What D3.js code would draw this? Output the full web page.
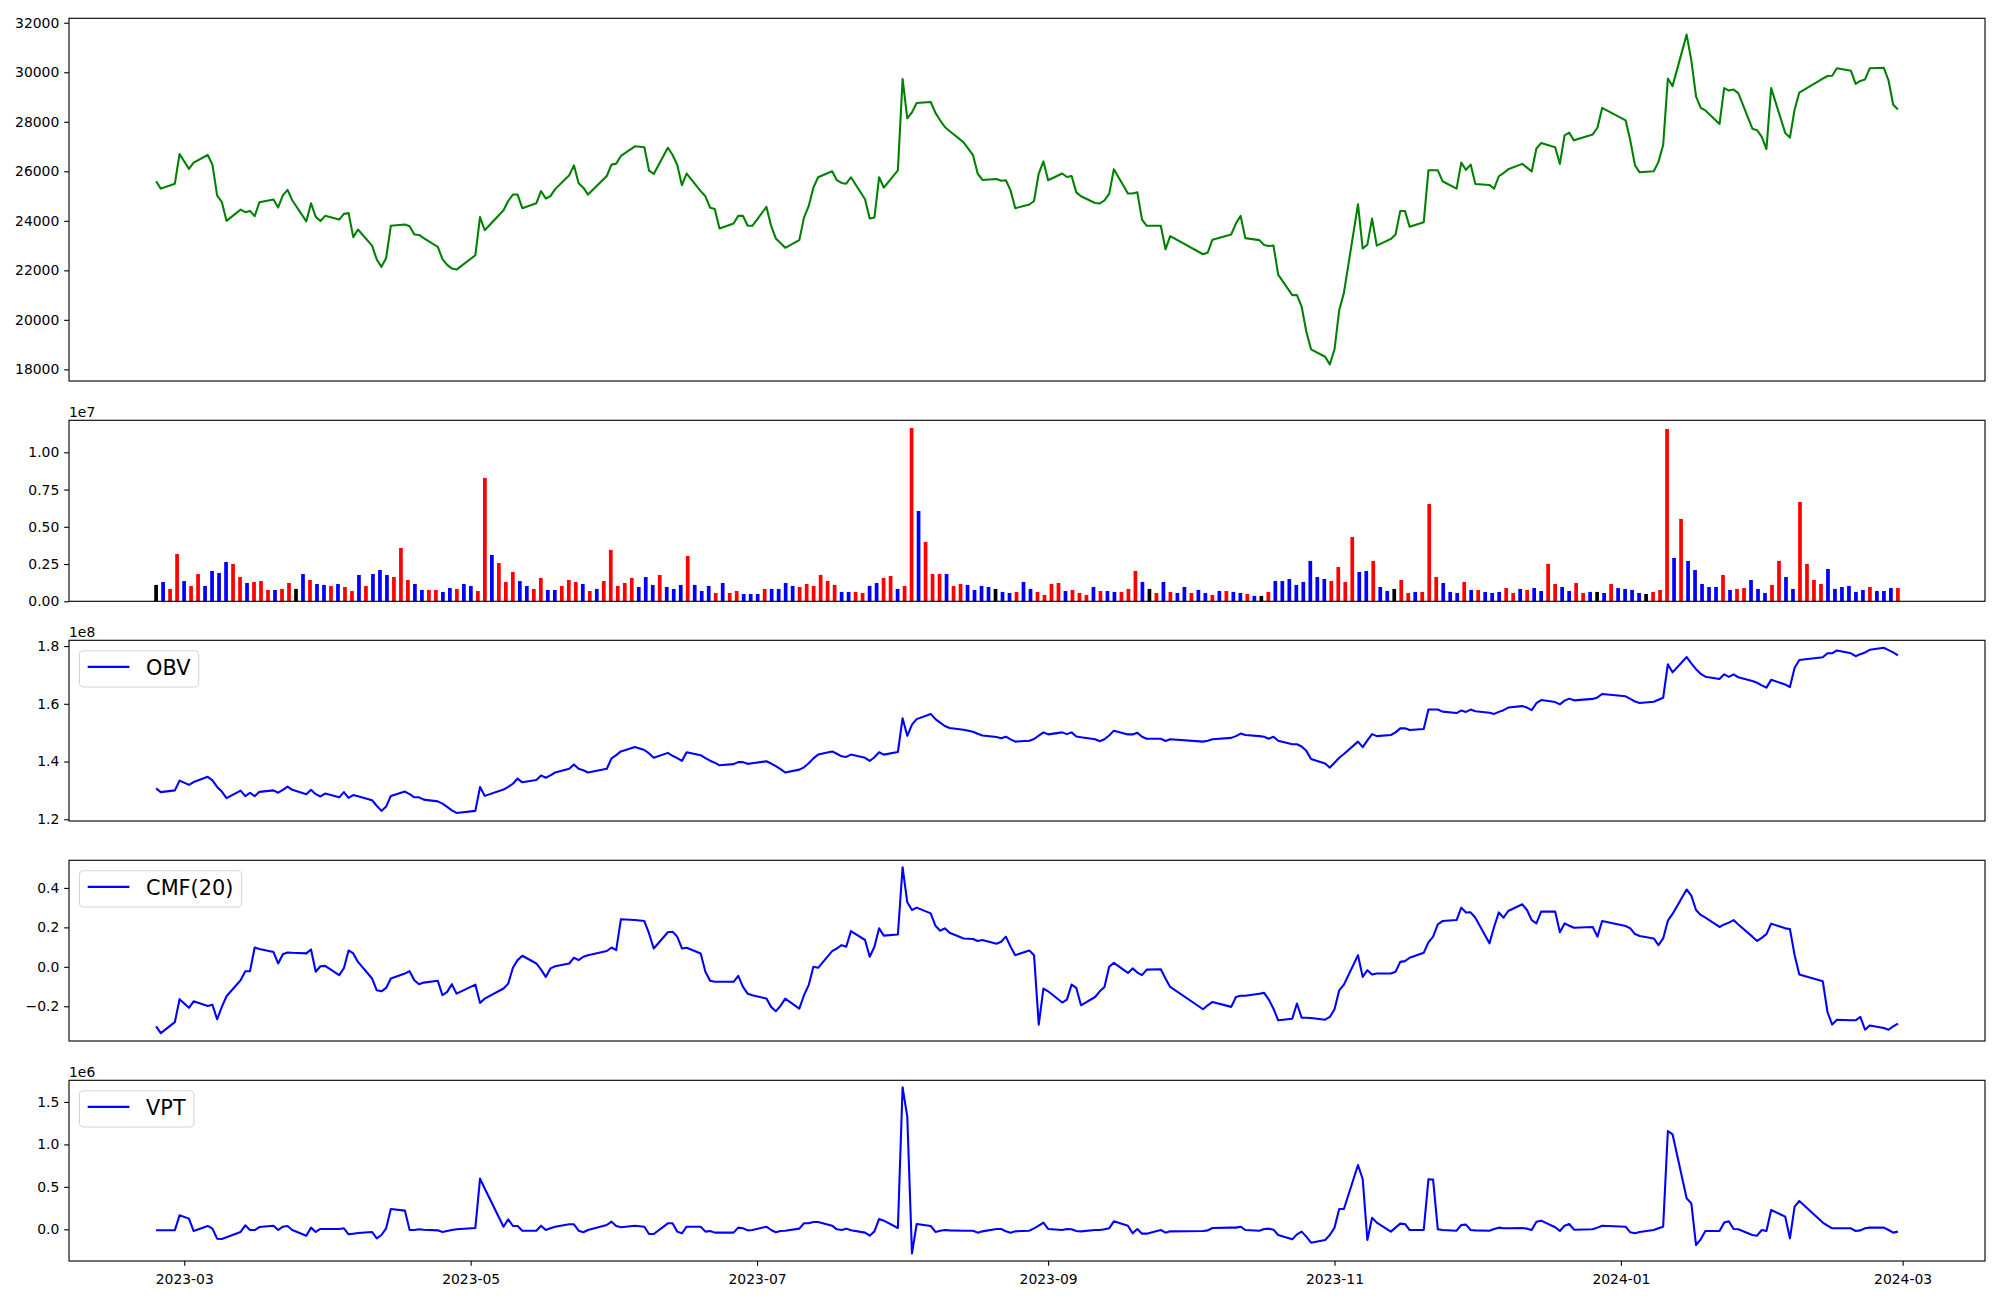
<!DOCTYPE html>
<html><head><meta charset="utf-8">
<script src="https://cdn.jsdelivr.net/npm/d3@7"></script>
<style>body{margin:0;background:#fff} svg{display:block} text{font-family:"DejaVu Sans",sans-serif}</style>
</head><body><svg id="chart" width="2000" height="1300"></svg>
<script>
// ---------------- DATA ----------------
const dates = ["2023-02-23","2023-02-24","2023-02-27","2023-02-28",
"2023-03-02","2023-03-03","2023-03-06","2023-03-07","2023-03-08","2023-03-09","2023-03-10","2023-03-13","2023-03-14","2023-03-15","2023-03-16","2023-03-17","2023-03-20","2023-03-21","2023-03-22","2023-03-23","2023-03-24","2023-03-27","2023-03-28","2023-03-29","2023-03-30","2023-03-31",
"2023-04-03","2023-04-04","2023-04-05","2023-04-06","2023-04-07","2023-04-10","2023-04-11","2023-04-12","2023-04-13","2023-04-14","2023-04-17","2023-04-18","2023-04-19","2023-04-20","2023-04-21","2023-04-24","2023-04-25","2023-04-26","2023-04-27","2023-04-28",
"2023-05-02","2023-05-03","2023-05-04","2023-05-08","2023-05-09","2023-05-10","2023-05-11","2023-05-12","2023-05-15","2023-05-16","2023-05-17","2023-05-18","2023-05-19","2023-05-22","2023-05-23","2023-05-24","2023-05-25","2023-05-26","2023-05-30","2023-05-31",
"2023-06-01","2023-06-02","2023-06-05","2023-06-07","2023-06-08","2023-06-09","2023-06-12","2023-06-13","2023-06-14","2023-06-15","2023-06-16","2023-06-19","2023-06-20","2023-06-21","2023-06-22","2023-06-23","2023-06-26","2023-06-27","2023-06-28","2023-06-29","2023-06-30",
"2023-07-03","2023-07-04","2023-07-05","2023-07-06","2023-07-07","2023-07-10","2023-07-11","2023-07-12","2023-07-13","2023-07-14","2023-07-17","2023-07-18","2023-07-19","2023-07-20","2023-07-21","2023-07-24","2023-07-25","2023-07-26","2023-07-27","2023-07-28","2023-07-31",
"2023-08-01","2023-08-02","2023-08-03","2023-08-04","2023-08-07","2023-08-08","2023-08-09","2023-08-10","2023-08-11","2023-08-14","2023-08-16","2023-08-17","2023-08-18","2023-08-21","2023-08-22","2023-08-23","2023-08-24","2023-08-25","2023-08-28","2023-08-29","2023-08-30","2023-08-31",
"2023-09-01","2023-09-04","2023-09-05","2023-09-06","2023-09-07","2023-09-08","2023-09-11","2023-09-12","2023-09-13","2023-09-14","2023-09-15","2023-09-18","2023-09-19","2023-09-20","2023-09-21","2023-09-22","2023-09-25","2023-09-26","2023-09-27",
"2023-10-04","2023-10-05","2023-10-06","2023-10-10","2023-10-11","2023-10-12","2023-10-13","2023-10-16","2023-10-17","2023-10-18","2023-10-19","2023-10-20","2023-10-23","2023-10-24","2023-10-25","2023-10-26","2023-10-27","2023-10-30","2023-10-31",
"2023-11-01","2023-11-02","2023-11-03","2023-11-06","2023-11-07","2023-11-08","2023-11-09","2023-11-10","2023-11-13","2023-11-14","2023-11-15","2023-11-16","2023-11-17","2023-11-20","2023-11-21","2023-11-22","2023-11-23","2023-11-24","2023-11-27","2023-11-28","2023-11-29","2023-11-30",
"2023-12-01","2023-12-04","2023-12-05","2023-12-06","2023-12-07","2023-12-08","2023-12-11","2023-12-12","2023-12-13","2023-12-14","2023-12-15","2023-12-18","2023-12-19","2023-12-20","2023-12-21","2023-12-22","2023-12-26","2023-12-27","2023-12-28",
"2024-01-02","2024-01-03","2024-01-04","2024-01-05","2024-01-08","2024-01-09","2024-01-10","2024-01-11","2024-01-12","2024-01-15","2024-01-16","2024-01-17","2024-01-18","2024-01-19","2024-01-22","2024-01-23","2024-01-24","2024-01-25","2024-01-26","2024-01-29","2024-01-30","2024-01-31",
"2024-02-01","2024-02-02","2024-02-05","2024-02-06","2024-02-07","2024-02-08","2024-02-13","2024-02-14","2024-02-15","2024-02-16","2024-02-19","2024-02-20","2024-02-21","2024-02-22","2024-02-23","2024-02-26","2024-02-27","2024-02-28","2024-02-29"];

const closePrice = [25600,25300,25500,26700,
26100,26350,26660,26270,25030,24760,24000,24450,24350,24400,24190,24750,24860,24540,25030,25250,24830,23980,24710,24160,23990,24200,
24050,24280,24310,23340,23650,23000,22440,22140,22500,23800,23850,23780,23450,23430,23300,22950,22450,22220,22070,22030,
22610,24150,23620,24430,24800,25060,25060,24510,24710,25200,24900,25000,25280,25840,26240,25520,25340,25060,25810,26270,
26310,26620,27010,26970,26030,25890,26950,26670,26260,25440,25910,25200,24990,24530,24480,23690,23890,24200,24200,23800,23800,
24560,23800,23290,23100,22910,23220,24130,24590,25340,25760,26000,25640,25530,25500,25760,24870,24090,24130,25760,25340,26040,
29730,28140,28380,28760,28800,28360,28060,27790,27630,27170,26650,25910,25650,25690,25620,25640,25230,24510,24660,24800,25910,26400,
25640,25910,25770,25810,25150,24990,24720,24700,24830,25090,26080,25100,25100,25150,24050,23800,23800,22850,23380,
22650,22720,23240,23450,23890,24200,23300,23220,23020,22980,23000,21830,21000,21000,20530,19520,18810,18510,18200,
18810,20390,21090,24670,22880,23040,24090,23000,23270,23450,24400,24400,23760,23940,26040,26040,26040,25600,25300,26350,26060,26270,
25490,25450,25300,25800,25930,26080,26300,26150,25990,26920,27140,26970,26300,27450,27560,27250,27490,27760,28560,
28060,27250,26240,25960,26000,26380,27060,29750,29440,31520,30480,29030,28560,28460,27910,29360,29260,29300,29160,27720,27660,27390,
26900,29360,27550,27360,28500,29180,29740,29850,29860,30160,30060,29530,29650,29710,30160,30180,29670,28690,28500];

// volume in millions of shares
const volumeM = [1.10,1.30,0.83,3.18,1.36,1.03,1.83,1.03,2.04,1.90,
2.64,2.51,1.63,1.23,1.30,1.36,0.76,0.76,0.83,1.23,
0.83,1.83,1.43,1.16,1.10,1.03,1.16,0.96,0.69,1.77,
1.03,1.83,2.10,1.77,1.63,3.58,1.43,1.16,0.76,0.76,
0.76,0.63,0.89,0.83,1.16,1.03,0.69,8.28,3.11,2.57,
1.30,1.97,1.36,1.03,0.83,1.57,0.76,0.76,1.03,1.43,
1.30,1.16,0.69,0.83,1.36,3.45,1.03,1.23,1.57,0.96,
1.63,1.10,1.77,0.96,0.83,1.10,3.04,1.10,0.69,1.03,
0.56,1.23,0.56,0.69,0.49,0.49,0.49,0.83,0.83,0.83,
1.23,1.03,0.96,1.16,1.03,1.77,1.36,1.10,0.63,0.63,
0.63,0.56,1.03,1.23,1.57,1.70,0.83,1.03,11.63,6.06,
3.98,1.83,1.83,1.83,1.03,1.16,1.10,0.76,1.03,0.96,
0.83,0.63,0.56,0.63,1.30,0.83,0.63,0.43,1.16,1.23,
0.69,0.76,0.56,0.43,0.96,0.69,0.69,0.63,0.63,0.83,
2.04,1.30,0.83,0.56,1.30,0.63,0.56,0.96,0.56,0.76,
0.56,0.43,0.69,0.69,0.63,0.56,0.49,0.36,0.36,0.63,
1.36,1.36,1.50,1.10,1.30,2.71,1.63,1.50,1.36,2.30,
1.30,4.32,1.97,2.04,2.71,0.96,0.69,0.83,1.43,0.56,
0.63,0.63,6.53,1.63,1.23,0.63,0.56,1.30,0.76,0.76,
0.63,0.56,0.63,0.89,0.56,0.83,0.76,0.89,0.69,2.51,
1.16,0.96,0.69,1.23,0.56,0.63,0.63,0.56,1.16,0.89,
0.83,0.76,0.56,0.49,0.63,0.76,11.57,2.91,5.53,2.71,
2.10,1.16,0.96,0.96,1.77,0.76,0.83,0.89,1.43,0.83,
0.56,1.10,2.71,1.63,0.83,6.67,2.51,1.43,1.16,2.17,
0.83,0.96,1.03,0.63,0.76,0.96,0.69,0.69,0.89,0.89];

// 1 = up (red), -1 = down (blue), 0 = unchanged (black)
const volumeDir = [0,-1,1,1,-1,1,1,-1,-1,-1,
-1,1,1,-1,1,1,1,-1,1,1,
0,-1,1,-1,-1,1,-1,1,1,-1,
1,-1,-1,-1,1,1,1,-1,-1,1,
1,-1,-1,1,-1,-1,1,1,-1,1,
1,1,-1,-1,1,1,-1,-1,1,1,
1,-1,1,-1,1,1,1,1,1,-1,
-1,-1,1,-1,-1,-1,1,-1,-1,-1,
1,-1,1,1,-1,-1,-1,1,-1,-1,
-1,-1,1,1,1,1,1,1,-1,-1,
1,1,-1,-1,1,1,-1,1,1,-1,
1,1,1,-1,1,1,-1,-1,-1,-1,
0,-1,-1,1,-1,-1,1,1,1,1,
-1,1,1,1,-1,1,-1,-1,1,1,
1,-1,0,1,-1,1,-1,-1,1,-1,
-1,1,-1,1,-1,-1,1,-1,0,1,
-1,-1,-1,-1,-1,-1,-1,-1,1,1,
1,1,-1,-1,1,-1,-1,0,1,1,
-1,1,1,1,-1,-1,-1,1,-1,1,
-1,-1,-1,1,1,-1,1,-1,-1,1,
1,-1,-1,1,1,-1,0,-1,1,-1,
-1,-1,-1,0,1,1,1,-1,1,-1,
-1,-1,-1,-1,1,-1,1,1,-1,-1,
-1,1,1,-1,-1,1,1,1,1,-1,
-1,-1,-1,-1,-1,1,-1,-1,-1,1];

// OBV in units of 1e8
const obvE8 = [1.307,1.294,1.300,1.334,
1.319,1.329,1.347,1.335,1.312,1.296,1.273,1.299,1.280,1.292,1.280,1.295,1.300,1.292,1.302,1.313,1.302,1.287,1.302,1.287,1.279,1.289,
1.276,1.294,1.274,1.284,1.280,1.266,1.247,1.229,1.244,1.281,1.296,1.287,1.276,1.276,1.268,1.262,1.254,1.243,1.231,1.222,
1.229,1.312,1.281,1.303,1.312,1.323,1.341,1.328,1.336,1.352,1.344,1.352,1.362,1.375,1.390,1.375,1.370,1.362,1.375,1.411,
1.422,1.435,1.450,1.440,1.428,1.413,1.430,1.420,1.412,1.402,1.432,1.422,1.412,1.403,1.396,1.387,1.391,1.398,1.398,1.392,1.394,
1.401,1.393,1.384,1.374,1.362,1.372,1.380,1.394,1.411,1.424,1.435,1.427,1.418,1.416,1.424,1.413,1.402,1.415,1.432,1.424,1.433,
1.550,1.489,1.528,1.547,1.565,1.547,1.535,1.523,1.516,1.510,1.503,1.496,1.490,1.485,1.481,1.486,1.477,1.469,1.472,1.478,1.490,1.501,
1.494,1.501,1.495,1.501,1.487,1.484,1.477,1.470,1.477,1.490,1.507,1.494,1.494,1.500,1.486,1.479,1.479,1.471,1.477,
1.469,1.472,1.477,1.482,1.488,1.497,1.492,1.488,1.486,1.479,1.486,1.472,1.460,1.460,1.452,1.437,1.409,1.393,1.379,
1.396,1.413,1.426,1.469,1.450,1.473,1.495,1.488,1.492,1.501,1.515,1.515,1.509,1.513,1.580,1.580,1.580,1.573,1.568,1.577,1.572,1.580,
1.574,1.569,1.565,1.572,1.578,1.587,1.592,1.587,1.578,1.602,1.613,1.606,1.598,1.611,1.618,1.612,1.617,1.622,1.634,
1.626,1.617,1.608,1.603,1.607,1.614,1.621,1.737,1.709,1.762,1.740,1.720,1.704,1.694,1.686,1.702,1.693,1.702,1.692,1.679,1.673,1.664,
1.656,1.683,1.667,1.658,1.725,1.752,1.761,1.775,1.775,1.785,1.775,1.765,1.772,1.778,1.787,1.794,1.786,1.778,1.768];

// Chaikin money flow (20)
const cmf20 = [-0.302,-0.336,-0.280,-0.164,
-0.208,-0.175,-0.198,-0.192,-0.266,-0.203,-0.149,-0.068,-0.022,-0.022,0.098,0.090,0.075,0.017,0.064,0.073,0.071,0.068,0.088,-0.025,0.003,0.005,
-0.042,-0.007,0.083,0.068,0.025,-0.059,-0.119,-0.124,-0.107,-0.059,-0.034,-0.022,-0.068,-0.088,-0.080,-0.071,-0.144,-0.127,-0.088,-0.136,
-0.090,-0.183,-0.161,-0.110,-0.085,-0.005,0.034,0.056,0.017,-0.014,-0.051,-0.008,0.003,0.017,0.046,0.034,0.051,0.059,0.080,0.098,
0.085,0.241,0.237,0.232,0.169,0.093,0.175,0.178,0.153,0.093,0.097,0.068,-0.025,-0.071,-0.076,-0.076,-0.076,-0.046,-0.102,-0.136,-0.144,
-0.161,-0.203,-0.225,-0.198,-0.161,-0.212,-0.144,-0.093,0.000,-0.005,0.080,0.093,0.110,0.102,0.181,0.136,0.051,0.102,0.195,0.158,0.164,
0.505,0.327,0.288,0.300,0.271,0.208,0.183,0.195,0.173,0.144,0.141,0.131,0.136,0.117,0.127,0.153,0.102,0.059,0.083,0.059,-0.293,-0.110,
-0.124,-0.181,-0.166,-0.090,-0.107,-0.195,-0.153,-0.124,-0.102,0.000,0.020,-0.031,-0.008,-0.029,-0.042,-0.014,-0.012,-0.059,-0.102,
-0.215,-0.195,-0.178,-0.203,-0.153,-0.147,-0.147,-0.136,-0.132,-0.166,-0.212,-0.271,-0.263,-0.186,-0.258,-0.258,-0.259,-0.268,-0.254,
-0.215,-0.119,-0.090,0.059,-0.051,-0.017,-0.039,-0.034,-0.034,-0.025,0.025,0.029,0.046,0.071,0.124,0.153,0.215,0.232,0.237,0.300,0.275,0.276,
0.249,0.119,0.203,0.276,0.249,0.283,0.317,0.288,0.237,0.220,0.280,0.280,0.175,0.220,0.208,0.198,0.202,0.153,0.232,
0.207,0.195,0.166,0.156,0.144,0.110,0.144,0.234,0.268,0.392,0.361,0.288,0.263,0.249,0.202,0.215,0.224,0.237,0.215,0.153,0.131,0.147,
0.166,0.219,0.195,0.192,0.059,-0.039,-0.073,-0.229,-0.293,-0.268,-0.271,-0.271,-0.254,-0.319,-0.297,-0.310,-0.319,-0.302,-0.288];

// VPT in units of 1e6
const vptE6 = [-0.010,-0.010,-0.010,0.165,
0.126,-0.020,0.040,0.008,-0.110,-0.114,-0.094,-0.031,0.047,-0.008,-0.008,0.027,0.043,-0.008,0.031,0.039,-0.008,-0.075,0.020,-0.031,0.004,0.004,
0.004,0.012,-0.059,-0.051,-0.043,-0.031,-0.106,-0.067,0.012,0.240,0.220,-0.008,-0.008,0.000,-0.004,-0.012,-0.031,-0.020,-0.008,0.000,
0.016,0.597,0.480,0.031,0.118,0.039,0.039,-0.016,-0.016,0.043,-0.008,0.012,0.031,0.059,0.059,-0.016,-0.035,-0.008,0.051,0.090,
0.039,0.024,0.043,0.031,-0.055,-0.055,0.071,0.071,-0.027,-0.047,0.031,0.031,-0.027,-0.020,-0.039,-0.039,-0.039,0.020,0.012,-0.012,-0.008,
0.031,-0.008,-0.035,-0.020,-0.016,0.008,0.071,0.071,0.086,0.086,0.043,0.000,-0.008,0.008,-0.012,-0.039,-0.075,-0.024,0.122,0.102,0.016,
1.673,1.327,-0.283,0.063,0.039,-0.031,-0.016,-0.008,-0.012,-0.016,-0.016,-0.039,-0.024,0.004,0.004,-0.024,-0.039,-0.024,-0.016,0.012,0.043,0.079,
0.004,-0.008,0.004,0.000,-0.020,-0.024,-0.008,-0.008,0.000,0.012,0.094,0.043,-0.047,0.004,-0.051,-0.051,-0.008,-0.039,-0.024,
-0.020,-0.012,0.016,0.020,0.020,0.031,-0.008,-0.016,0.004,0.008,-0.004,-0.067,-0.118,-0.059,-0.027,-0.086,-0.157,-0.126,-0.067,
0.020,0.240,0.240,0.758,0.593,-0.126,0.137,0.079,-0.027,0.020,0.067,0.063,-0.008,-0.008,0.589,0.585,0.000,-0.008,-0.016,0.051,0.055,-0.008,
-0.012,-0.016,0.004,0.020,0.012,0.012,0.016,0.008,-0.008,0.090,0.102,0.024,-0.020,0.043,0.063,-0.004,0.000,0.020,0.043,
0.031,-0.035,-0.047,-0.031,-0.008,0.012,0.031,1.158,1.119,0.365,0.306,-0.185,-0.118,-0.020,-0.020,0.079,0.094,0.004,0.000,-0.067,-0.075,-0.008,
-0.020,0.228,0.149,-0.106,0.267,0.334,0.080,0.043,0.012,0.012,0.012,-0.020,-0.012,0.012,0.020,0.020,-0.008,-0.039,-0.027];

const priceTicks = [18000,20000,22000,24000,26000,28000,30000,32000];
const volumeTicksM = [0,2.5,5,7.5,10];
const obvTicks = [1.2,1.4,1.6,1.8];
const cmfTicks = [-0.2,0,0.2,0.4];
const vptTicks = [0,0.5,1.0,1.5];
const xTickLabels = ["2023-03","2023-05","2023-07","2023-09","2023-11","2024-01","2024-03"];

// ---------------- LAYOUT ----------------
const L = 69, R = 1985;
const FS = 13.9, TICK = 4.86, PAD = 4.86, LW = 2.08;
const svg = d3.select("#chart");
svg.append("rect").attr("width",2000).attr("height",1300).attr("fill","#fff");

const parse = d3.timeParse("%Y-%m-%d");
const tDates = dates.map(parse);
const t0 = tDates[0], t1 = tDates[tDates.length-1];
const span = t1 - t0;
const x = d3.scaleTime().domain([new Date(+t0 - 0.05*span), new Date(+t1 + 0.05*span)]).range([L, R]);
const n = dates.length;
const xi = d3.scaleLinear().domain([-0.05*(n-1), (n-1)*1.05]).range([L, R]);

function panel(top, bottom, domain){
  const y = d3.scaleLinear().domain(domain).range([bottom, top]);
  return {top, bottom, y, g: svg.append("g")};
}
function yAxis(p, ticks, fmt){
  const ax = d3.axisLeft(p.y).tickValues(ticks).tickFormat(fmt).tickSize(TICK).tickPadding(PAD).tickSizeOuter(0);
  const g = svg.append("g").attr("transform",`translate(${L},0)`).call(ax);
  g.select(".domain").remove();
  g.selectAll(".tick line").attr("stroke","#000").attr("stroke-width",1.11);
  g.selectAll(".tick text").attr("font-size",FS).attr("font-family","DejaVu Sans").attr("fill","#000");
}
function spine(p){
  svg.append("rect").attr("x",L).attr("y",p.top).attr("width",R-L).attr("height",p.bottom-p.top)
    .attr("fill","none").attr("stroke","#000").attr("stroke-width",1.11);
}
function offsetText(p, s){
  svg.append("text").attr("x",L).attr("y",p.top-3.5).attr("font-size",FS).attr("fill","#000").text(s);
}
function legend(p, label){
  const fs = 20.83, top = p.top + 10.4, left = L + 10.4;
  const g = svg.append("g");
  const rect = g.append("rect").attr("x",left).attr("y",top).attr("height",36.3).attr("rx",4.2)
    .attr("fill","rgba(255,255,255,0.8)").attr("stroke","#d6d6d6").attr("stroke-width",1.1);
  g.append("line").attr("x1",left+8.3).attr("x2",left+8.3+41.7).attr("y1",top+16.2).attr("y2",top+16.2)
    .attr("stroke","#0000ff").attr("stroke-width",LW);
  const t = g.append("text").attr("x",left+8.3+41.7+16.7).attr("y",top+24.3).attr("font-size",fs).attr("fill","#000").text(label);
  const w = t.node().getComputedTextLength();
  rect.attr("width", 8.3+41.7+16.7+w+8.3);
}
function drawLine(p, vals, color){
  const line = d3.line().x((d,i)=>x(tDates[i])).y(d=>p.y(d)).curve(d3.curveLinear);
  p.g.append("path").datum(vals).attr("d",line).attr("fill","none").attr("stroke",color)
    .attr("stroke-width",LW).attr("stroke-linejoin","round");
}

// Panel 1: price
const pPrice = panel(18.3, 381, [17530, 32180]);
drawLine(pPrice, closePrice, "#008000");
yAxis(pPrice, priceTicks, d3.format("d"));
spine(pPrice);

// Panel 2: volume
const pVol = panel(420.3, 601.3, [0, 12.15]);
const barW = (xi(1)-xi(0))*0.53;
const colorOf = d => d > 0 ? "#ff0000" : (d < 0 ? "#0000ff" : "#000000");
pVol.g.selectAll("rect").data(volumeM).join("rect")
  .attr("x",(d,i)=>xi(i)-barW/2).attr("width",barW)
  .attr("y",d=>pVol.y(d)).attr("height",d=>pVol.y(0)-pVol.y(d))
  .attr("fill",(d,i)=>colorOf(volumeDir[i]));
yAxis(pVol, volumeTicksM, d=>(d/10).toFixed(2));
spine(pVol);
offsetText(pVol, "1e7");

// Panel 3: OBV
const pObv = panel(640.3, 821, [1.194, 1.820]);
drawLine(pObv, obvE8, "#0000ff");
yAxis(pObv, obvTicks, d=>d.toFixed(1));
spine(pObv);
offsetText(pObv, "1e8");
legend(pObv, "OBV");

// Panel 4: CMF
const pCmf = panel(860.3, 1041, [-0.376, 0.540]);
drawLine(pCmf, cmf20, "#0000ff");
yAxis(pCmf, cmfTicks, d=>d.toFixed(1).replace("-","\u2212"));
spine(pCmf);
legend(pCmf, "CMF(20)");

// Panel 5: VPT
const pVpt = panel(1080.3, 1261, [-0.373, 1.755]);
drawLine(pVpt, vptE6, "#0000ff");
yAxis(pVpt, vptTicks, d=>d.toFixed(1));
spine(pVpt);
offsetText(pVpt, "1e6");
legend(pVpt, "VPT");

// bottom date axis
const xAx = d3.axisBottom(x).tickValues(xTickLabels.map(s=>parse(s+"-01")))
  .tickFormat(d3.timeFormat("%Y-%m")).tickSize(TICK).tickPadding(PAD).tickSizeOuter(0);
const gx = svg.append("g").attr("transform",`translate(0,${pVpt.bottom})`).call(xAx);
gx.select(".domain").remove();
gx.selectAll(".tick line").attr("stroke","#000").attr("stroke-width",1.11);
gx.selectAll(".tick text").attr("font-size",FS).attr("font-family","DejaVu Sans").attr("fill","#000").attr("dy","0.93em");
</script></body></html>
